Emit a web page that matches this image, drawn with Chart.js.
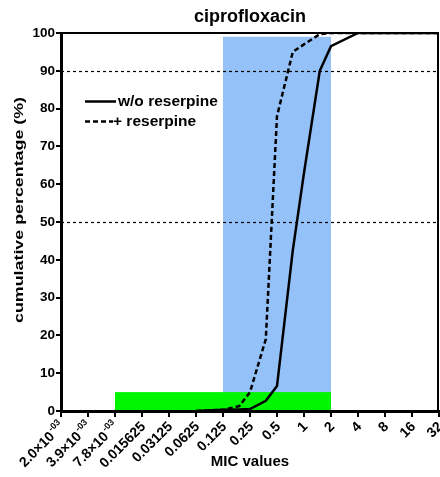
<!DOCTYPE html>
<html>
<head>
<meta charset="utf-8">
<script src="https://cdn.jsdelivr.net/npm/chart.js@4/dist/chart.umd.min.js"></script>
<style>
  html, body { margin: 0; padding: 0; background: #fff; }
  canvas { display: block; }
</style>
</head>
<body>
<canvas id="chart" width="440" height="477"></canvas>
<script>
// ---- chart texts ----
const chartTitle = 'ciprofloxacin';
const xAxisTitle = 'MIC values';
const yAxisTitle = 'cumulative percentage (%)';
const seriesNames = ['w/o reserpine', '+ reserpine'];

// ---- two-fold dilution steps shown on the x axis ----
const tickValues = [0.001953125, 0.00390625, 0.0078125, 0.015625, 0.03125, 0.0625,
                    0.125, 0.25, 0.5, 1, 2, 4, 8, 16, 32];
const tickLabels = ['2.0×10^-03', '3.9×10^-03', '7.8×10^-03', '0.015625', '0.03125', '0.0625',
                    '0.125', '0.25', '0.5', '1', '2', '4', '8', '16', '32'];
const yTickValues = [0, 10, 20, 30, 40, 50, 60, 70, 80, 90, 100];

// ---- cumulative distributions (MIC -> cumulative %) ----
const micPoints        = [0.0625, 0.125, 0.19, 0.25, 0.375, 0.5, 0.75, 1, 1.5, 2, 4, 8, 16, 32];
const withoutReserpine = [0, 0.3, 0.4, 0.5, 2.7, 6.6, 42.5, 63, 90, 96.5, 100, 100, 100, 100];
const withReserpine    = [0, 0.3, 1.3, 5, 19, 78, 95, 97, 99.7, 100, 100, 100, 100, 100];

// ---- shaded ranges and reference levels ----
const blueBandMic = [0.125, 2];
const blueBandPct = [0, 99];
const greenBandMic = [0.0078125, 2];
const greenBandPct = [0, 5];
const referenceLevels = [50, 90];

const FONT = "'Liberation Sans', Arial, sans-serif";
const toPoints = (ys) => micPoints.map((m, i) => ({ x: Math.log2(m), y: ys[i] }));

const decorPlugin = {
  id: 'decor',
  beforeDraw(chart) {
    const { ctx, chartArea: a, scales: { x, y } } = chart;
    ctx.save();
    const band = (mic, pct, color) => {
      const x0 = x.getPixelForValue(Math.log2(mic[0]));
      const x1 = x.getPixelForValue(Math.log2(mic[1]));
      const y0 = y.getPixelForValue(pct[0]);
      const y1 = y.getPixelForValue(pct[1]);
      ctx.fillStyle = color;
      ctx.fillRect(x0, y1, x1 - x0, y0 - y1);
    };
    band(blueBandMic, blueBandPct, '#94c1f8');
    band(greenBandMic, greenBandPct, '#00f500');
    ctx.strokeStyle = '#000';
    ctx.lineWidth = 1.2;
    ctx.setLineDash([3, 3]);
    referenceLevels.forEach(level => {
      const py = Math.round(y.getPixelForValue(level)) + 0.5;
      ctx.beginPath();
      ctx.moveTo(a.left, py);
      ctx.lineTo(a.right, py);
      ctx.stroke();
    });
    ctx.restore();
  },
  afterDraw(chart) {
    const { ctx, chartArea: a, scales: { x, y } } = chart;
    ctx.save();
    ctx.fillStyle = '#000';
    ctx.strokeStyle = '#000';

    // top and right frame
    ctx.lineWidth = 2;
    ctx.setLineDash([]);
    ctx.beginPath();
    ctx.moveTo(a.left, a.top);
    ctx.lineTo(a.right - 1, a.top);
    ctx.lineTo(a.right - 1, a.bottom);
    ctx.stroke();

    // title
    ctx.font = `bold 18px ${FONT}`;
    ctx.textAlign = 'center';
    ctx.textBaseline = 'middle';
    ctx.fillText(chartTitle, (a.left + a.right) / 2, 17);

    // x axis title
    ctx.font = `bold 15px ${FONT}`;
    ctx.fillText(xAxisTitle, (a.left + a.right) / 2, 462);

    // y axis title (drawn wide along its length)
    ctx.save();
    ctx.translate(19, 210);
    ctx.rotate(-Math.PI / 2);
    ctx.font = `bold 13px ${FONT}`;
    const w = ctx.measureText(yAxisTitle).width;
    ctx.scale(226 / w, 1);
    ctx.fillText(yAxisTitle, 0, 0);
    ctx.restore();

    // x tick labels, rotated
    tickValues.forEach((v, i) => {
      const px = x.getPixelForValue(Math.log2(v));
      ctx.save();
      ctx.translate(px + 1.5, 424.5);
      ctx.rotate(-Math.PI / 4);
      ctx.textAlign = 'right';
      ctx.textBaseline = 'middle';
      const parts = tickLabels[i].split('^');
      if (parts.length === 2) {
        ctx.font = `bold 9px ${FONT}`;
        const ws = ctx.measureText(parts[1]).width;
        ctx.fillText(parts[1], 0, -5);
        ctx.font = `bold 14px ${FONT}`;
        ctx.fillText(parts[0], -ws - 1, 0);
      } else {
        ctx.font = `bold 14px ${FONT}`;
        ctx.fillText(parts[0], 0, 0);
      }
      ctx.restore();
    });

    // legend
    const rows = [101.5, 121.5];
    chart.data.datasets.forEach((ds, i) => {
      ctx.lineWidth = 2.5;
      ctx.setLineDash(ds.borderDash || []);
      ctx.beginPath();
      ctx.moveTo(85, rows[i]);
      ctx.lineTo(i === 0 ? 116 : 113, rows[i]);
      ctx.stroke();
      ctx.setLineDash([]);
      ctx.font = `bold 15.5px ${FONT}`;
      ctx.textAlign = 'left';
      ctx.textBaseline = 'middle';
      ctx.fillText(ds.label, i === 0 ? 118 : 113, rows[i]);
    });
    ctx.restore();
  }
};

new Chart(document.getElementById('chart'), {
  type: 'line',
  data: {
    datasets: [
      { label: seriesNames[0], data: toPoints(withoutReserpine), borderColor: '#000',
        borderWidth: 2.5, pointRadius: 0, tension: 0, fill: false },
      { label: seriesNames[1], data: toPoints(withReserpine), borderColor: '#000',
        borderWidth: 2.5, borderDash: [5, 3], pointRadius: 0, tension: 0, fill: false }
    ]
  },
  options: {
    responsive: false,
    animation: false,
    events: [],
    layout: { padding: { top: 33, right: 1, left: 0, bottom: 0 } },
    plugins: { legend: { display: false }, title: { display: false }, tooltip: { enabled: false } },
    scales: {
      x: {
        type: 'linear',
        min: Math.log2(tickValues[0]),
        max: Math.log2(tickValues[tickValues.length - 1]),
        afterBuildTicks: s => { s.ticks = tickValues.map(v => ({ value: Math.log2(v) })); },
        afterFit: s => { s.height = 66; },
        ticks: { display: false },
        grid: { display: true, drawOnChartArea: false, drawTicks: true, tickLength: 6, color: '#000', lineWidth: 2 },
        border: { display: true, color: '#000', width: 3 }
      },
      y: {
        type: 'linear',
        min: 0,
        max: 100,
        afterBuildTicks: s => { s.ticks = yTickValues.map(v => ({ value: v })); },
        afterFit: s => { s.width = 61; },
        ticks: { color: '#000', padding: 1, font: { family: FONT, weight: 'bold', size: 13.5 } },
        grid: { display: true, drawOnChartArea: false, drawTicks: true, tickLength: 5, color: '#000', lineWidth: 2 },
        border: { display: true, color: '#000', width: 3 }
      }
    }
  },
  plugins: [decorPlugin]
});
</script>
</body>
</html>
